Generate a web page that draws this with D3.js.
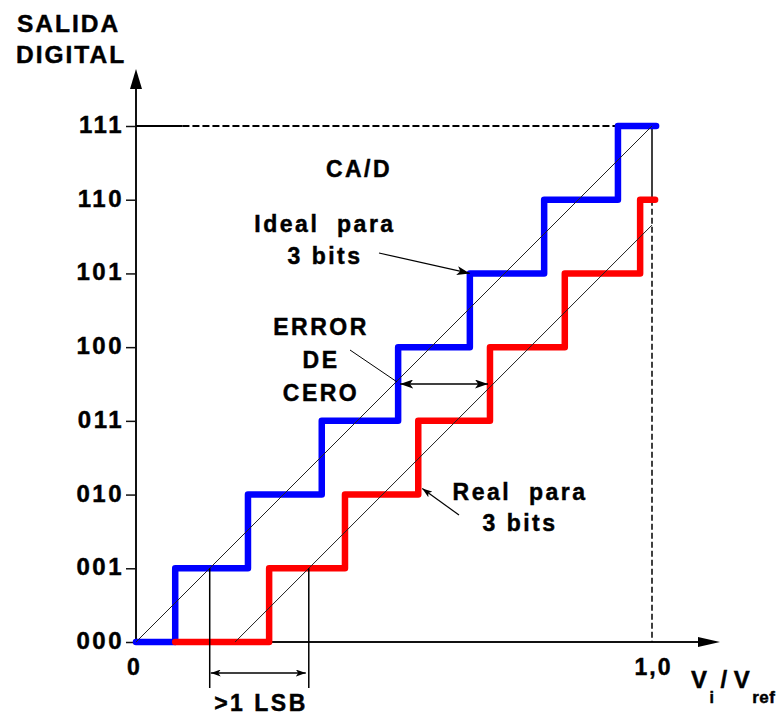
<!DOCTYPE html>
<html>
<head>
<meta charset="utf-8">
<script src="https://cdn.jsdelivr.net/npm/d3@7"></script>
<style>
  body { margin: 0; background: #fff; }
  svg { display: block; }
  text { font-family: "Liberation Sans", Arial, sans-serif; font-weight: bold; fill: #000; stroke: #000; stroke-width: 0.45px; }
</style>
</head>
<body>
<svg id="chart" width="782" height="715"></svg>
<script>
// Output codes of the 3-bit converter
const codeLabels = ["000", "001", "010", "011", "100", "101", "110", "111"];
// Input (Vi/Vref) at which the ideal converter steps to the next code
const idealSteps = [0.076, 0.217, 0.360, 0.508, 0.647, 0.791, 0.934];
const idealStart = 0;
const idealEnd = 1.008;
// Input at which the real converter (with zero/offset error) steps
const realSteps = [0.258, 0.405, 0.547, 0.686, 0.831, 0.977];
const realStart = 0.076;
const realEnd = 1.006;
// Offset of the real transfer line at code 000 (Vi/Vref)
const zeroError = 0.192;
// x axis tick values and their labels
const xTicks = [0, 1];
const xTickLabels = ["0", "1,0"];

const svg = d3.select("#chart");
const x = d3.scaleLinear().domain([0, 1]).range([136, 652]);
const y = d3.scaleLinear().domain([0, 7]).range([642, 126]);
const nCodes = codeLabels.length - 1;
const lsb = 1 / nCodes;

// arrowhead markers
const defs = svg.append("defs");
function marker(id, len, wid) {
  defs.append("marker")
    .attr("id", id)
    .attr("viewBox", `0 0 ${len} ${wid}`)
    .attr("refX", len).attr("refY", wid / 2)
    .attr("markerWidth", len).attr("markerHeight", wid)
    .attr("markerUnits", "userSpaceOnUse")
    .attr("orient", "auto-start-reverse")
    .append("path")
    .attr("d", `M0,0L${len},${wid / 2}L0,${wid}L${len * 0.25},${wid / 2}Z`)
    .attr("fill", "#000");
}
marker("headBig", 13, 9);
marker("headSmall", 10, 7);

// ---- axes ----
const g = svg.append("g");
const yAxisTop = y(7) - 57;
const xAxisEnd = x(1) + 68;

g.append("line")
  .attr("x1", x(0)).attr("x2", x(0))
  .attr("y1", y(0)).attr("y2", yAxisTop + 18)
  .attr("stroke", "#111").attr("stroke-width", 2);
g.append("path")
  .attr("d", `M${x(0)},${yAxisTop}L${x(0) + 6},${yAxisTop + 20}L${x(0) - 6},${yAxisTop + 20}Z`)
  .attr("fill", "#000");

g.append("line")
  .attr("x1", x(0)).attr("x2", xAxisEnd - 18)
  .attr("y1", y(0)).attr("y2", y(0))
  .attr("stroke", "#111").attr("stroke-width", 2);
g.append("path")
  .attr("d", `M${xAxisEnd},${y(0)}L${xAxisEnd - 22},${y(0) - 5}L${xAxisEnd - 22},${y(0) + 5}Z`)
  .attr("fill", "#000");

const yAxis = d3.axisLeft(y)
  .tickValues(d3.range(codeLabels.length))
  .tickFormat(i => codeLabels[i])
  .tickSize(10)
  .tickPadding(2);
const yg = svg.append("g").attr("transform", `translate(${x(0)},0)`).call(yAxis);
yg.select(".domain").remove();
yg.selectAll(".tick line").attr("stroke", "#111").attr("stroke-width", 1.5);
yg.selectAll(".tick text")
  .attr("font-size", 24).attr("letter-spacing", 2.5)
  .attr("font-family", "'Liberation Sans', Arial, sans-serif")
  .attr("font-weight", "bold")
  .attr("dy", "0.27em");

const xAxis = d3.axisBottom(x)
  .tickValues(xTicks)
  .tickFormat((d, i) => xTickLabels[i])
  .tickSize(0)
  .tickPadding(17);
const xg = svg.append("g").attr("transform", `translate(0,${y(0)})`).call(xAxis);
xg.select(".domain").remove();
xg.selectAll(".tick text")
  .attr("font-size", 23).attr("letter-spacing", 2)
  .attr("font-family", "'Liberation Sans', Arial, sans-serif")
  .attr("font-weight", "bold")
  .attr("dx", (d, i) => i === 0 ? -2 : 1);

// axis titles
svg.append("text").attr("x", 17).attr("y", 32)
  .attr("font-size", 24.5).attr("letter-spacing", 2).text("SALIDA");
svg.append("text").attr("x", 16).attr("y", 63)
  .attr("font-size", 24.5).attr("letter-spacing", 2).text("DIGITAL");

const vt = svg.append("text").attr("x", 691).attr("y", 688)
  .attr("font-size", 24).attr("letter-spacing", 0.5);
vt.append("tspan").text("V");
vt.append("tspan").attr("font-size", 16).attr("dy", 15).attr("dx", 2).text("i");
vt.append("tspan").attr("dy", -15).attr("dx", 6).text("/");
vt.append("tspan").attr("dx", 6).text("V");
vt.append("tspan").attr("font-size", 17).attr("dy", 15).attr("dx", 2).text("ref");

// ---- full-scale guide lines ----
svg.append("line")
  .attr("x1", x(0)).attr("x2", x(0.09))
  .attr("y1", y(nCodes)).attr("y2", y(nCodes))
  .attr("stroke", "#000").attr("stroke-width", 2);
svg.append("line")
  .attr("x1", x(0.09)).attr("x2", x(idealSteps[nCodes - 1]))
  .attr("y1", y(nCodes)).attr("y2", y(nCodes))
  .attr("stroke", "#000").attr("stroke-width", 2)
  .attr("stroke-dasharray", "7,3");
svg.append("line")
  .attr("x1", x(1)).attr("x2", x(1))
  .attr("y1", y(nCodes)).attr("y2", y(nCodes - 1))
  .attr("stroke", "#000").attr("stroke-width", 1.5);
svg.append("line")
  .attr("x1", x(1)).attr("x2", x(1))
  .attr("y1", y(nCodes - 1)).attr("y2", y(0))
  .attr("stroke", "#000").attr("stroke-width", 1.5)
  .attr("stroke-dasharray", "6,3");

// ---- transfer staircases ----
function staircase(start, steps, end) {
  const pts = [[start, 0]];
  steps.forEach((t, i) => { pts.push([t, i]); pts.push([t, i + 1]); });
  pts.push([end, steps.length]);
  return pts;
}
const stepLine = d3.line().x(d => x(d[0])).y(d => y(d[1]));

svg.append("path")
  .attr("d", stepLine(staircase(idealStart, idealSteps, idealEnd)))
  .attr("fill", "none").attr("stroke", "#0000ff").attr("stroke-width", 6.5)
  .attr("stroke-linejoin", "round").attr("stroke-linecap", "round");
svg.append("path")
  .attr("d", stepLine(staircase(realStart, realSteps, realEnd)))
  .attr("fill", "none").attr("stroke", "#ff0000").attr("stroke-width", 6.5)
  .attr("stroke-linejoin", "round").attr("stroke-linecap", "round");

// ---- ideal and real transfer lines ----
svg.append("line")
  .attr("x1", x(0)).attr("y1", y(0))
  .attr("x2", x(1)).attr("y2", y(nCodes))
  .attr("stroke", "#222").attr("stroke-width", 1);
svg.append("line")
  .attr("x1", x(zeroError)).attr("y1", y(0))
  .attr("x2", x(1)).attr("y2", y((1 - zeroError) * nCodes))
  .attr("stroke", "#222").attr("stroke-width", 1);

// ---- LSB error dimension ----
const lsbBottom = y(0) + 46;
const lsbArrowY = y(0) + 31;
[lsb, zeroError + lsb].forEach(v => {
  svg.append("line")
    .attr("x1", x(v)).attr("x2", x(v))
    .attr("y1", y(1)).attr("y2", lsbBottom)
    .attr("stroke", "#000").attr("stroke-width", 1.5);
});
svg.append("line")
  .attr("x1", x(lsb) + 1).attr("x2", x(zeroError + lsb) - 3)
  .attr("y1", lsbArrowY).attr("y2", lsbArrowY)
  .attr("stroke", "#000").attr("stroke-width", 1.5)
  .attr("marker-start", "url(#headSmall)").attr("marker-end", "url(#headSmall)");
svg.append("text").attr("x", 261).attr("y", 711)
  .attr("text-anchor", "middle").attr("font-size", 23).attr("letter-spacing", 2.5)
  .text(">1 LSB");

// ---- zero error dimension ----
const errY = y(3.5);
svg.append("line")
  .attr("x1", x(idealSteps[3]) + 2).attr("x2", x(realSteps[3]) - 2)
  .attr("y1", errY).attr("y2", errY)
  .attr("stroke", "#000").attr("stroke-width", 1.5)
  .attr("marker-start", "url(#headBig)").attr("marker-end", "url(#headBig)");
svg.append("line")
  .attr("x1", 350).attr("y1", 350)
  .attr("x2", x(idealSteps[3]) - 1).attr("y2", errY - 2)
  .attr("stroke", "#000").attr("stroke-width", 1);

// ---- annotations ----
function label(lines, cx, baselines, size) {
  lines.forEach((t, i) => {
    svg.append("text").attr("x", cx).attr("y", baselines[i])
      .attr("text-anchor", "middle").attr("font-size", size || 23)
      .attr("letter-spacing", 2.5).attr("xml:space", "preserve")
      .text(t);
  });
}
label(["CA/D"], 359, [177]);
label(["Ideal  para", "3 bits"], 325, [232, 264]);
label(["ERROR", "DE", "CERO"], 321, [335, 368, 401]);
label(["Real  para", "3 bits"], 520, [500, 531]);

// pointer to the ideal staircase
svg.append("line")
  .attr("x1", 379).attr("y1", 253)
  .attr("x2", x(idealSteps[4])).attr("y2", y(5))
  .attr("stroke", "#000").attr("stroke-width", 1.2)
  .attr("marker-end", "url(#headBig)");
// pointer to the real staircase
svg.append("line")
  .attr("x1", 459).attr("y1", 515)
  .attr("x2", x(realSteps[2]) + 4).attr("y2", y(2) - 6)
  .attr("stroke", "#000").attr("stroke-width", 1.2)
  .attr("marker-end", "url(#headSmall)");
</script>
</body>
</html>
